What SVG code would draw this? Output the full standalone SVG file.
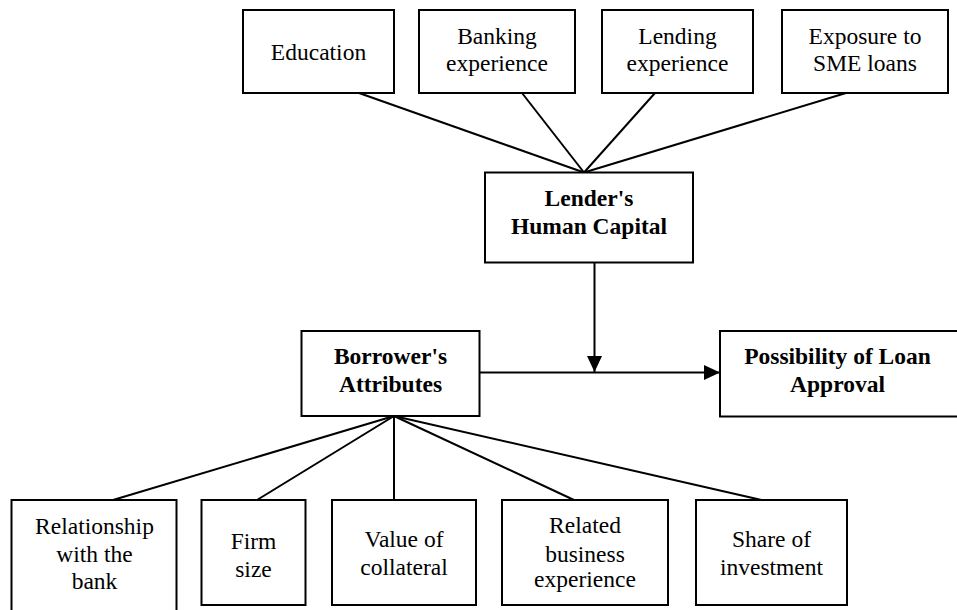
<svg xmlns="http://www.w3.org/2000/svg" width="957" height="610" viewBox="0 0 957 610">
<style>
  .box { fill: #fff; stroke: #000; stroke-width: 2; }
  .t { font-family: "Liberation Serif", "Times New Roman", serif; font-size: 23.5px; fill: #000; text-anchor: middle; }
  .b { font-weight: bold; }
  .ln { stroke: #000; stroke-width: 2; fill: none; }
</style>
<defs>
  <marker id="arr" markerUnits="userSpaceOnUse" markerWidth="17" markerHeight="16" refX="16" refY="7.5" orient="auto">
    <path d="M0,0 L16,7.5 L0,15 z" fill="#000"/>
  </marker>
</defs>
<rect width="957" height="610" fill="#fff"/>

<g id="connectors">
  <line class="ln" x1="359" y1="93" x2="584" y2="172.5"/>
  <line class="ln" x1="522" y1="93" x2="584" y2="172.5"/>
  <line class="ln" x1="655" y1="93" x2="584" y2="172.5"/>
  <line class="ln" x1="846" y1="93" x2="584" y2="172.5"/>
  <line class="ln" x1="594.5" y1="263" x2="594.5" y2="372" marker-end="url(#arr)"/>
  <line class="ln" x1="479" y1="372.5" x2="720" y2="372.5" marker-end="url(#arr)"/>
  <line class="ln" x1="394" y1="416" x2="113" y2="500"/>
  <line class="ln" x1="394" y1="416" x2="257" y2="500"/>
  <line class="ln" x1="394" y1="416" x2="394" y2="500"/>
  <line class="ln" x1="394" y1="416" x2="574" y2="500"/>
  <line class="ln" x1="394" y1="416" x2="761.5" y2="500"/>
</g>

<g id="education">
  <rect class="box" x="243" y="10" width="151" height="83"/>
  <text class="t" x="318.5" y="60">Education</text>
</g>
<g id="banking">
  <rect class="box" x="419" y="10" width="156" height="83"/>
  <text class="t" x="497" y="43.5">Banking</text>
  <text class="t" x="497" y="71">experience</text>
</g>
<g id="lending">
  <rect class="box" x="602" y="10" width="151" height="83"/>
  <text class="t" x="677.5" y="43.5">Lending</text>
  <text class="t" x="677.5" y="71">experience</text>
</g>
<g id="exposure">
  <rect class="box" x="782" y="10" width="166" height="83"/>
  <text class="t" x="865" y="43.5">Exposure to</text>
  <text class="t" x="865" y="71">SME loans</text>
</g>

<g id="lender">
  <rect class="box" x="485" y="172.5" width="208" height="90"/>
  <text class="t b" x="589" y="206">Lender's</text>
  <text class="t b" x="589" y="234">Human Capital</text>
</g>

<g id="borrower">
  <rect class="box" x="301.5" y="331" width="178" height="85"/>
  <text class="t b" x="390.5" y="364">Borrower's</text>
  <text class="t b" x="390.5" y="392">Attributes</text>
</g>

<g id="possibility">
  <rect class="box" x="720" y="331" width="245" height="85.5"/>
  <text class="t b" x="837.5" y="363.5">Possibility of Loan</text>
  <text class="t b" x="837.5" y="392">Approval</text>
</g>

<g id="relationship">
  <rect class="box" x="11.5" y="500" width="165" height="120"/>
  <text class="t" x="94.5" y="533.5">Relationship</text>
  <text class="t" x="94.5" y="561.5">with the</text>
  <text class="t" x="94.5" y="588.5">bank</text>
</g>
<g id="firm">
  <rect class="box" x="201.5" y="500" width="104" height="105"/>
  <text class="t" x="253.5" y="549">Firm</text>
  <text class="t" x="253.5" y="577">size</text>
</g>
<g id="collateral">
  <rect class="box" x="332" y="500" width="144" height="105"/>
  <text class="t" x="404" y="547">Value of</text>
  <text class="t" x="404" y="575">collateral</text>
</g>
<g id="related">
  <rect class="box" x="502" y="500" width="166" height="105"/>
  <text class="t" x="585" y="533">Related</text>
  <text class="t" x="585" y="561.5">business</text>
  <text class="t" x="585" y="587">experience</text>
</g>
<g id="share">
  <rect class="box" x="696" y="500" width="151" height="105"/>
  <text class="t" x="771.5" y="546.5">Share of</text>
  <text class="t" x="771.5" y="575">investment</text>
</g>
</svg>
